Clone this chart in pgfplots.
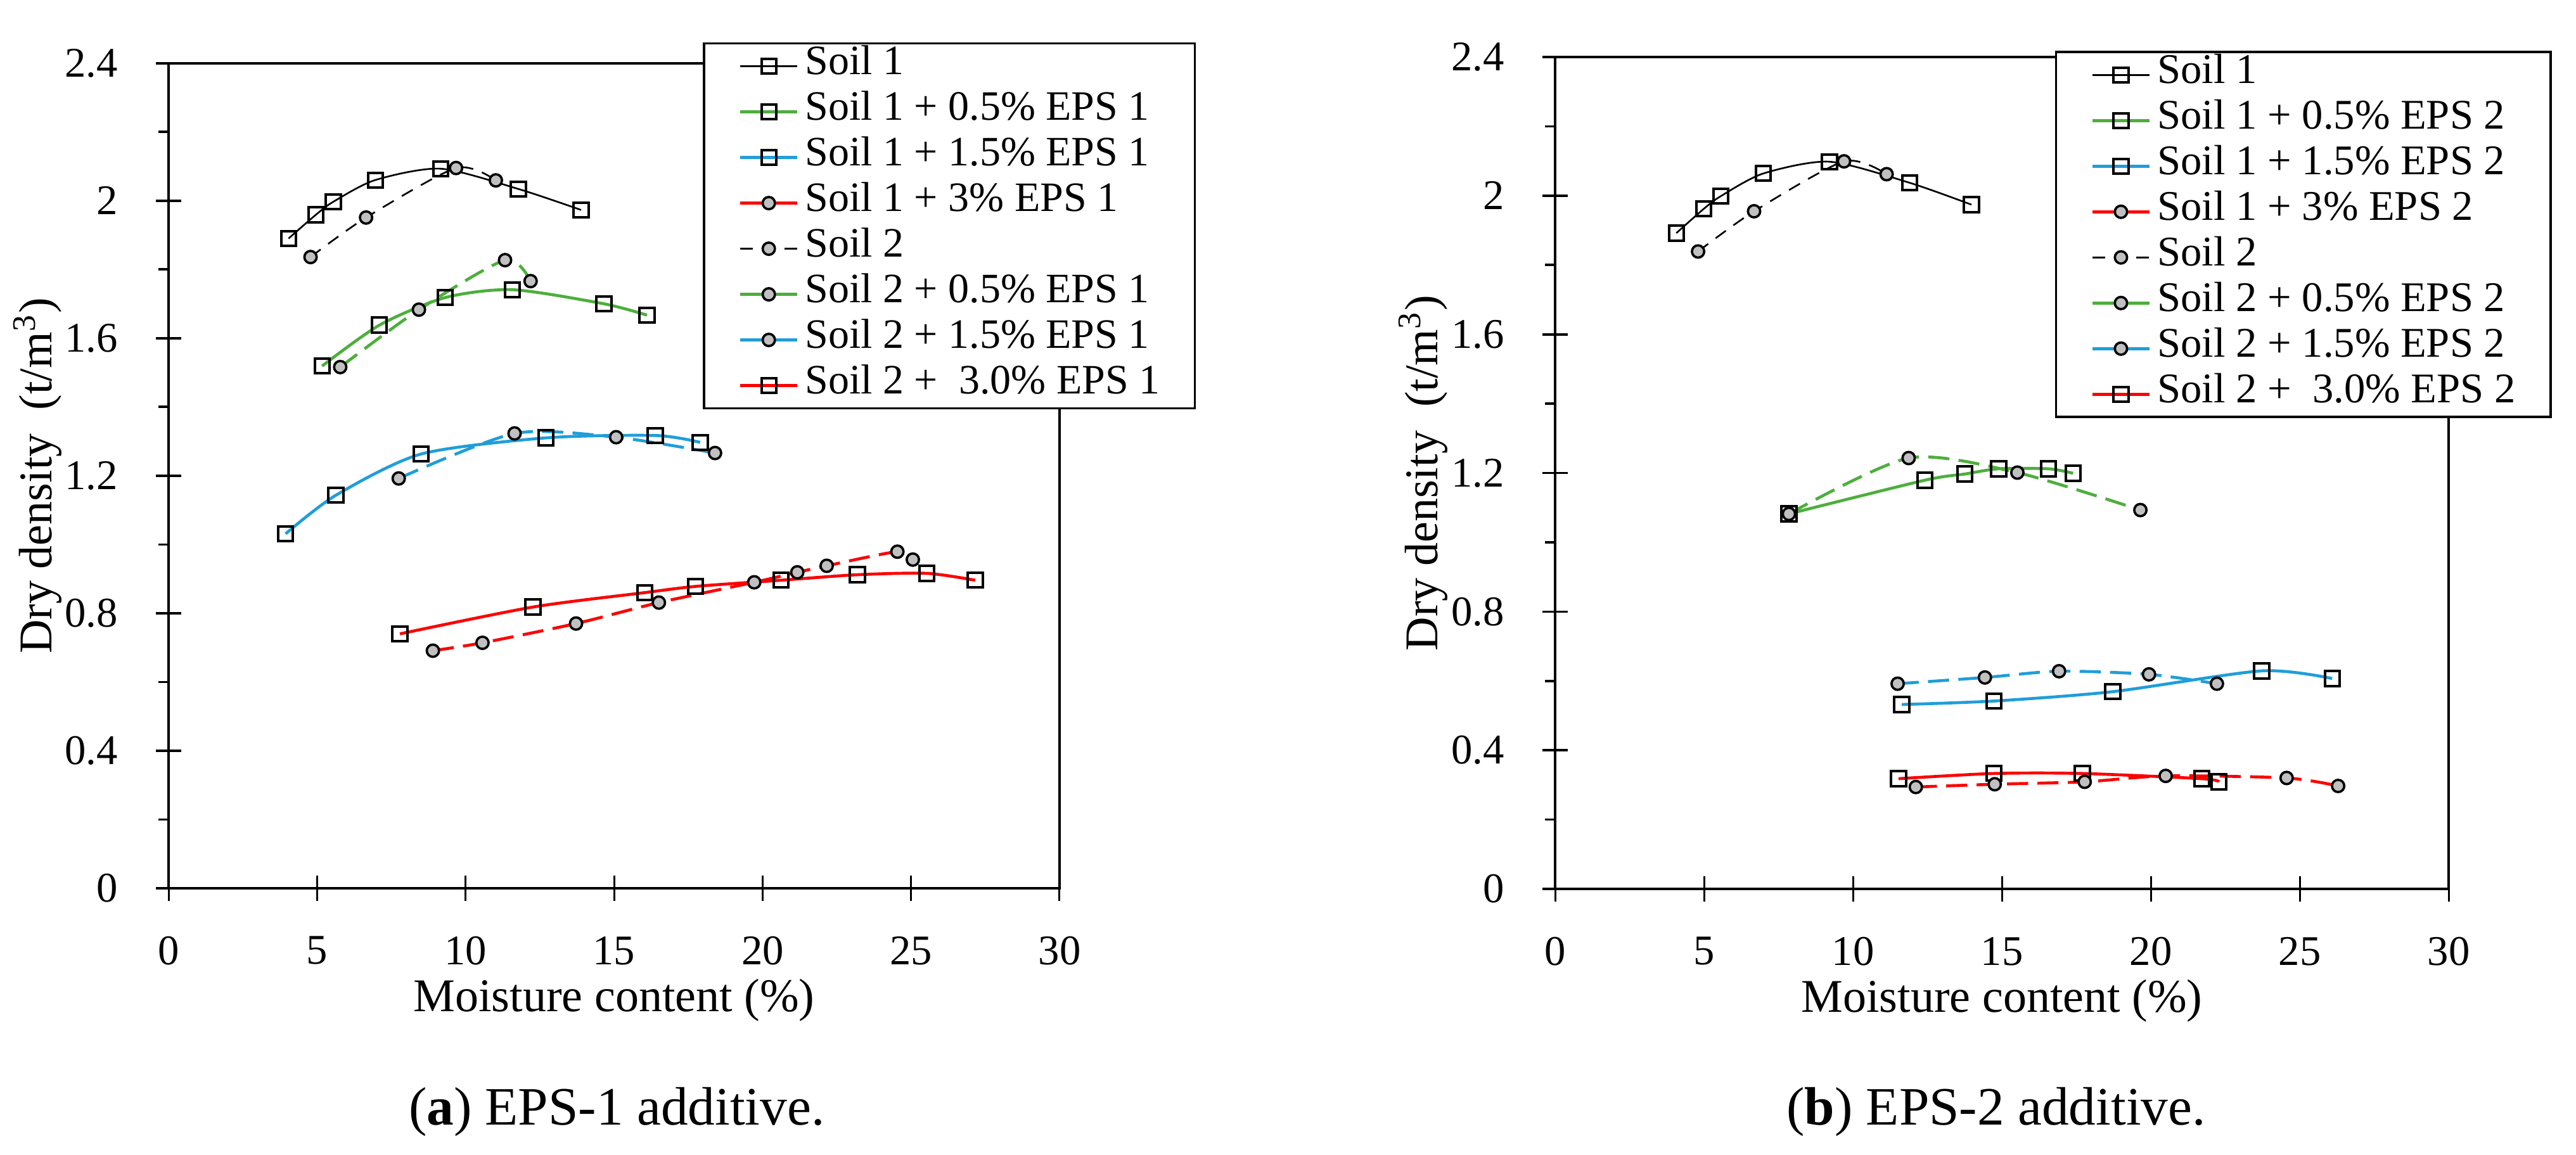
\documentclass[border=0pt]{standalone}
\usepackage{fontspec}
\setmainfont{Liberation Serif}
\usepackage{pgfplots}
\pgfplotsset{compat=1.18}
\definecolor{cgreen}{RGB}{76,175,59}
\definecolor{cblue}{RGB}{31,158,217}
\definecolor{cred}{RGB}{255,0,0}
\definecolor{cgray}{RGB}{192,192,192}
\pgfplotsset{
  sq/.style={mark=square, mark size=1.75pt, mark options={solid, draw=black, line width=0.6pt, fill=none}},
  ci/.style={mark=*, mark size=1.45pt, mark options={solid, draw=black, fill=cgray, line width=0.55pt}},
  blk/.style={black, line width=0.4pt},
  col/.style={#1, line width=0.7pt},
  dsh/.style={dash pattern=on 5pt off 2.2pt},
  bdsh/.style={dash pattern=on 3pt off 2.2pt},
  sm/.style={smooth, tension=0.45},
  myaxis/.style={
    scale only axis,
    axis line style={line width=0.55pt},
    xmin=0, xmax=30, ymin=0, ymax=2.4,
    xtick={0,5,10,15,20,25,30},
    ytick={0,0.4,0.8,1.2,1.6,2,2.4},
    extra y ticks={0.2,0.6,1,1.4,1.8,2.2},
    extra y tick labels={},
    extra y tick style={tick align=outside, major tick length=2.4pt},
    xtick pos=bottom, ytick pos=left,
    tick align=center, major tick length=6pt,
    y tick style={line width=0.55pt, black},
    x tick style={line width=0.45pt, black},
    minor tick num=0,
    tick label style={font=\rmfamily\fontsize{10}{12}\selectfont},
    /pgf/number format/assume math mode=true,
    xticklabel style={yshift=-4.9pt},
    yticklabel style={xshift=-5.5pt},
    label style={font=\rmfamily\fontsize{11.1}{13}\selectfont},
    xlabel={Moisture content (\%)},
    ylabel={Dry density~ (t/m\textsuperscript{3})},
    legend cell align=left,
    legend style={draw=black, line width=0.55pt, inner xsep=8.25pt, inner ysep=0pt,
      nodes={inner sep=0pt, text height=7.4pt, text depth=3.4pt}, column sep=1.5pt},
    legend image code/.code={\draw[mark repeat=2, mark phase=2, #1] plot coordinates {(0pt,0pt) (6.75pt,0pt) (13.5pt,0pt)};},
  }
}
\begin{document}
\begin{tikzpicture}
\useasboundingbox (0,0) rectangle (609.75pt,273.3pt);
% ---------------- (a) EPS 1 ----------------
\begin{axis}[myaxis, at={(39.9pt,63pt)}, anchor=south west, width=210.9pt, height=195.35pt,
  xlabel style={at={(axis description cs:0.5,-0.149)}, anchor=base},
  ylabel style={at={(axis description cs:-0.1309,0.5)}, anchor=base},
  legend style={at={(0.5996,1.0253)}, anchor=north west, font=\rmfamily\fontsize{9.9}{11}\selectfont}]
\addplot[blk, sm, sq, forget plot] coordinates {(4.04,1.890) (4.96,1.959) (5.55,1.997) (6.96,2.060) (9.16,2.093) (11.78,2.034) (13.89,1.973)};
\addplot[blk, bdsh, sm, ci, forget plot] coordinates {(4.78,1.836) (6.65,1.951) (9.68,2.095) (11.02,2.059)};
\addplot[col=cgreen, sm, sq, forget plot] coordinates {(5.17,1.519) (7.10,1.638) (9.31,1.718) (11.58,1.741) (14.66,1.700) (16.11,1.667)};
\addplot[col=cgreen, dsh, sm, ci, forget plot] coordinates {(5.78,1.516) (8.43,1.683) (11.33,1.827) (12.19,1.766)};
\addplot[col=cblue, sm, sq, forget plot] coordinates {(3.94,1.031) (5.63,1.143) (8.50,1.263) (12.70,1.310) (16.39,1.317) (17.90,1.297)};
\addplot[col=cblue, dsh, sm, ci, forget plot] coordinates {(7.75,1.192) (11.65,1.323) (15.07,1.312) (18.40,1.266)};
\addplot[col=cred, sm, sq, forget plot] coordinates {(7.79,0.740) (12.27,0.818) (16.04,0.860) (17.74,0.878) (20.62,0.896) (23.19,0.912) (25.53,0.916) (27.16,0.896)};
\addplot[col=cred, dsh, sm, ci, forget plot] coordinates {(8.90,0.691) (10.57,0.714) (13.72,0.770) (16.51,0.831) (19.72,0.890) (21.17,0.919) (22.16,0.938) (24.54,0.979) (25.06,0.956)};
\addlegendimage{blk, sq}\addlegendentry{Soil 1}
\addlegendimage{col=cgreen, sq}\addlegendentry{Soil 1 + 0.5\% EPS 1}
\addlegendimage{col=cblue, sq}\addlegendentry{Soil 1 + 1.5\% EPS 1}
\addlegendimage{col=cred, ci}\addlegendentry{Soil 1 + 3\% EPS 1}
\addlegendimage{blk, bdsh, ci}\addlegendentry{Soil 2}
\addlegendimage{col=cgreen, ci}\addlegendentry{Soil 2 + 0.5\% EPS 1}
\addlegendimage{col=cblue, ci}\addlegendentry{Soil 2 + 1.5\% EPS 1}
\addlegendimage{col=cred, sq}\addlegendentry{Soil 2 +~ 3.0\% EPS 1}
\end{axis}
% ---------------- (b) EPS 2 ----------------
\begin{axis}[myaxis, at={(368.1pt,62.85pt)}, anchor=south west, width=211.5pt, height=196.95pt,
  xlabel style={at={(axis description cs:0.5,-0.1478)}, anchor=base},
  ylabel style={at={(axis description cs:-0.1319,0.5)}, anchor=base},
  legend style={at={(0.5594,1.0073)}, anchor=north west, font=\rmfamily\fontsize{10}{12}\selectfont}]
\addplot[blk, sm, sq, forget plot] coordinates {(4.07,1.892) (4.99,1.962) (5.57,1.999) (6.99,2.064) (9.21,2.098) (11.91,2.037) (13.98,1.974)};
\addplot[blk, bdsh, sm, ci, forget plot] coordinates {(4.80,1.839) (6.68,1.955) (9.70,2.099) (11.13,2.062)};
\addplot[col=cgreen, sm, sq, forget plot] coordinates {(7.85,1.082) (12.41,1.179) (13.76,1.197) (14.89,1.212) (16.57,1.212) (17.39,1.199)};
\addplot[col=cgreen, dsh, sm, ci, forget plot] coordinates {(7.85,1.082) (11.87,1.243) (15.52,1.201) (19.65,1.093)};
\addplot[col=cblue, sm, sq, forget plot] coordinates {(11.64,0.532) (14.73,0.542) (18.72,0.569) (23.72,0.629) (26.09,0.607)};
\addplot[col=cblue, dsh, sm, ci, forget plot] coordinates {(11.50,0.592) (14.43,0.610) (16.92,0.628) (19.94,0.619) (22.22,0.592)};
\addplot[col=cred, sm, sq, forget plot] coordinates {(11.53,0.318) (14.73,0.333) (17.70,0.333) (21.71,0.318) (22.29,0.309)};
\addplot[col=cred, dsh, sm, ci, forget plot] coordinates {(12.11,0.294) (14.76,0.302) (17.78,0.309) (20.50,0.326) (24.56,0.320) (26.29,0.297)};
\addlegendimage{blk, sq}\addlegendentry{Soil 1}
\addlegendimage{col=cgreen, sq}\addlegendentry{Soil 1 + 0.5\% EPS 2}
\addlegendimage{col=cblue, sq}\addlegendentry{Soil 1 + 1.5\% EPS 2}
\addlegendimage{col=cred, ci}\addlegendentry{Soil 1 + 3\% EPS 2}
\addlegendimage{blk, bdsh, ci}\addlegendentry{Soil 2}
\addlegendimage{col=cgreen, ci}\addlegendentry{Soil 2 + 0.5\% EPS 2}
\addlegendimage{col=cblue, ci}\addlegendentry{Soil 2 + 1.5\% EPS 2}
\addlegendimage{col=cred, sq}\addlegendentry{Soil 2 +~ 3.0\% EPS 2}
\end{axis}
\node[anchor=base, font=\rmfamily\fontsize{12.8}{15}\selectfont] at (146pt,7.05pt) {(\textbf{a}) EPS-1 additive.};
\node[anchor=base, font=\rmfamily\fontsize{12.8}{15}\selectfont] at (472.5pt,7.05pt) {(\textbf{b}) EPS-2 additive.};
\end{tikzpicture}
\end{document}
